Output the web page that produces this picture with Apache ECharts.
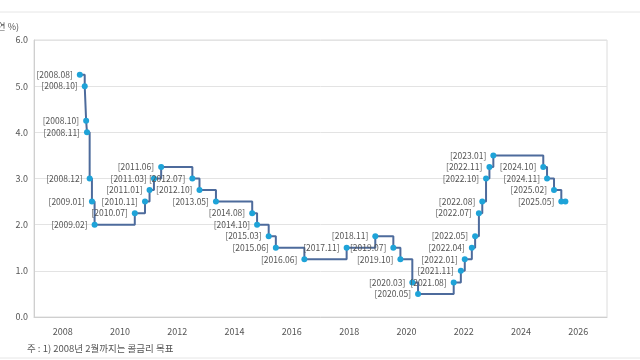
<!DOCTYPE html>
<html>
<head>
<meta charset="utf-8">
<script src="https://cdn.jsdelivr.net/npm/echarts@6/dist/echarts.min.js"></script>
<style>html,body{margin:0;padding:0;background:#fff;}#c{width:640px;height:360px;}</style>
</head>
<body>
<div id="c"></div>
<script>
// Decision dates of the base rate and rates (annual %)
const dates = ["2008-08-07","2008-10-09","2008-10-27","2008-11-07","2008-12-11","2009-01-09","2009-02-12",
  "2010-07-09","2010-11-16","2011-01-13","2011-03-10","2011-06-10","2012-07-12","2012-10-11","2013-05-09",
  "2014-08-14","2014-10-15","2015-03-12","2015-06-11","2016-06-09","2017-11-30","2018-11-30","2019-07-18",
  "2019-10-16","2020-03-16","2020-05-28","2021-08-26","2021-11-25","2022-01-14","2022-04-14","2022-05-26",
  "2022-07-13","2022-08-25","2022-10-12","2022-11-24","2023-01-13","2024-10-11","2024-11-28","2025-02-25",
  "2025-05-29","2025-07-20"];
const rates = [5.25,5.00,4.25,4.00,3.00,2.50,2.00,
  2.25,2.50,2.75,3.00,3.25,3.00,2.75,2.50,
  2.25,2.00,1.75,1.50,1.25,1.50,1.75,1.50,
  1.25,0.75,0.50,0.75,1.00,1.25,1.50,1.75,
  2.25,2.50,3.00,3.25,3.50,3.25,3.00,2.75,
  2.50,2.50];
// last point is the current level (unlabelled)
const labeled = dates.map((d,i)=> i < dates.length-1);
const yTicks = ["0.0","1.0","2.0","3.0","4.0","5.0","6.0"];
const unitLabel = "(연 %)";
const footnote = "주 : 1) 2008년 2월까지는 콜금리 목표";

function toYear(s){
  const [y,m,d] = s.split("-").map(Number);
  const start = Date.UTC(y,0,1), end = Date.UTC(y+1,0,1);
  return y + (Date.UTC(y,m-1,d)-start)/(end-start);
}
const data = dates.map((d,i)=>({
  value:[toYear(d), rates[i]],
  label:{show: labeled[i], formatter: '[' + d.slice(0,4) + '.' + d.slice(5,7) + ']'}
}));

const font = '"Noto Sans CJK KR", "Noto Sans", sans-serif';
const chart = echarts.init(document.getElementById('c'), null, {renderer:'canvas'});
chart.setOption({
  animation:false,
  textStyle:{fontFamily:font},
  grid:{left:34, right:33, top:40, bottom:43, show:true, borderColor:'#dcdcdc', borderWidth:1},
  xAxis:{type:'value', min:2007, max:2027, interval:1,
    axisLine:{show:true, lineStyle:{color:'#cfcfcf'}},
    axisTick:{show:false},
    splitLine:{show:false},
    axisLabel:{color:'#555', fontSize:9, margin:10, fontFamily:font,
      formatter:v=> (v%2===0 ? String(v) : '')}
  },
  yAxis:{type:'value', min:0, max:6, interval:1,
    axisLine:{show:true, lineStyle:{color:'#cfcfcf'}},
    axisTick:{show:false},
    splitLine:{lineStyle:{color:'#e3e3e3'}},
    axisLabel:{color:'#555', fontSize:9, margin:6, fontFamily:font,
      formatter:v=> yTicks[Math.round(v)]}
  },
  series:[{
    type:'line', step:'end', data:data,
    lineStyle:{color:'#4d6b9c', width:2},
    symbol:'circle', symbolSize:6,
    itemStyle:{color:'#1ea3d8'},
    label:{position:'left', distance:4, color:'#555', fontSize:8.5, fontFamily:font},
    z:3
  }],
  graphic:[
    {type:'line', shape:{x1:0,y1:12,x2:640,y2:12}, style:{stroke:'#e6e6e6', lineWidth:1}},
    {type:'line', shape:{x1:0,y1:358,x2:640,y2:358}, style:{stroke:'#e6e6e6', lineWidth:1}},
    {type:'text', x:19, y:27, style:{text:unitLabel, fill:'#555', fontSize:9, fontFamily:font, align:'right', verticalAlign:'middle'}},
    {type:'text', x:27, y:348, style:{text:footnote, fill:'#555', fontSize:9.5, fontFamily:font, align:'left', verticalAlign:'middle'}}
  ]
});
</script>
</body>
</html>
